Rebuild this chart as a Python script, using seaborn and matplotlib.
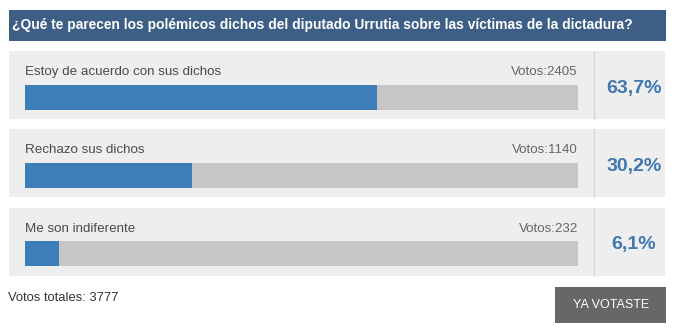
import matplotlib
matplotlib.use("Agg")
import matplotlib.pyplot as plt
import matplotlib.patches as mpatches
import seaborn as sns
import pandas as pd

# Poll data
question = "¿Qué te parecen los polémicos dichos del diputado Urrutia sobre las víctimas de la dictadura?"
options = ["Estoy de acuerdo con sus dichos", "Rechazo sus dichos", "Me son indiferente"]
votes = [2405, 1140, 232]
percents = [63.7, 30.2, 6.1]
total_votes = 3777
button_label = "YA VOTASTE"

# Palette
HEADER = "#3d5f86"
PANEL = "#eeeeee"
DIVIDER = "#d6d6d6"
TRACK = "#c6c6c6"
FILL = "#3d7eb9"
PCT_TEXT = "#3f78b0"
TEXT = "#4a4a4a"
BUTTON = "#676767"

sns.set_theme(style="white")
plt.rcParams["font.family"] = ["Liberation Sans", "DejaVu Sans"]

W, H = 677, 332
fig = plt.figure(figsize=(W / 100, H / 100), dpi=100)
fig.patch.set_facecolor("white")

# Background layer in pixel coordinates
bg = fig.add_axes([0, 0, 1, 1])
bg.set_xlim(0, W)
bg.set_ylim(H, 0)
bg.axis("off")

bg.add_patch(mpatches.Rectangle((9, 10), 657, 31, color=HEADER, lw=0))
bg.text(12, 25.5, question, color="white", fontsize=9.95, fontweight="bold",
        va="center", ha="left")

panel_top = [51, 129, 208]
panel_h = 68
for i, top in enumerate(panel_top):
    bg.add_patch(mpatches.Rectangle((9, top), 656, panel_h, color=PANEL, lw=0))
    bg.plot([594, 594], [top, top + panel_h], color=DIVIDER, lw=1)
    bg.text(25, top + 21, options[i], color=TEXT, fontsize=9.6, va="center", ha="left")
    bg.text(578, top + 21, f"Votos:{votes[i]}", color="#666666", fontsize=9.6,
            va="center", ha="right")
    bg.text(634, top + 37, f"{percents[i]:.1f}%".replace(".", ","), color=PCT_TEXT,
            fontsize=14, fontweight="bold", va="center", ha="center")

bg.text(8, 298, f"Votos totales: {total_votes}", color="#333333", fontsize=9.4,
        va="center", ha="left")
bg.add_patch(mpatches.Rectangle((555, 287), 111, 36, color=BUTTON, lw=0))
bg.text(611, 305.5, button_label, color="white", fontsize=9.0, va="center", ha="center")

# Bar layer: one categorical axis holding the three tracks
x0, x1 = 25, 578
y_top, y_bot = 85, 266
bar_ax = fig.add_axes([x0 / W, 1 - y_bot / H, (x1 - x0) / W, (y_bot - y_top) / H])
df = pd.DataFrame({"option": options, "percent": percents, "full": [100] * len(options)})
sns.barplot(data=df, x="full", y="option", color=TRACK, width=0.32, saturation=1,
            ax=bar_ax, linewidth=0)
sns.barplot(data=df, x="percent", y="option", color=FILL, width=0.32, saturation=1,
            ax=bar_ax, linewidth=0)
bar_ax.set_xlim(0, 100)
bar_ax.set_ylim(2.16, -0.16)
bar_ax.axis("off")
bar_ax.patch.set_alpha(0)

fig.savefig("out.png", dpi=100)
